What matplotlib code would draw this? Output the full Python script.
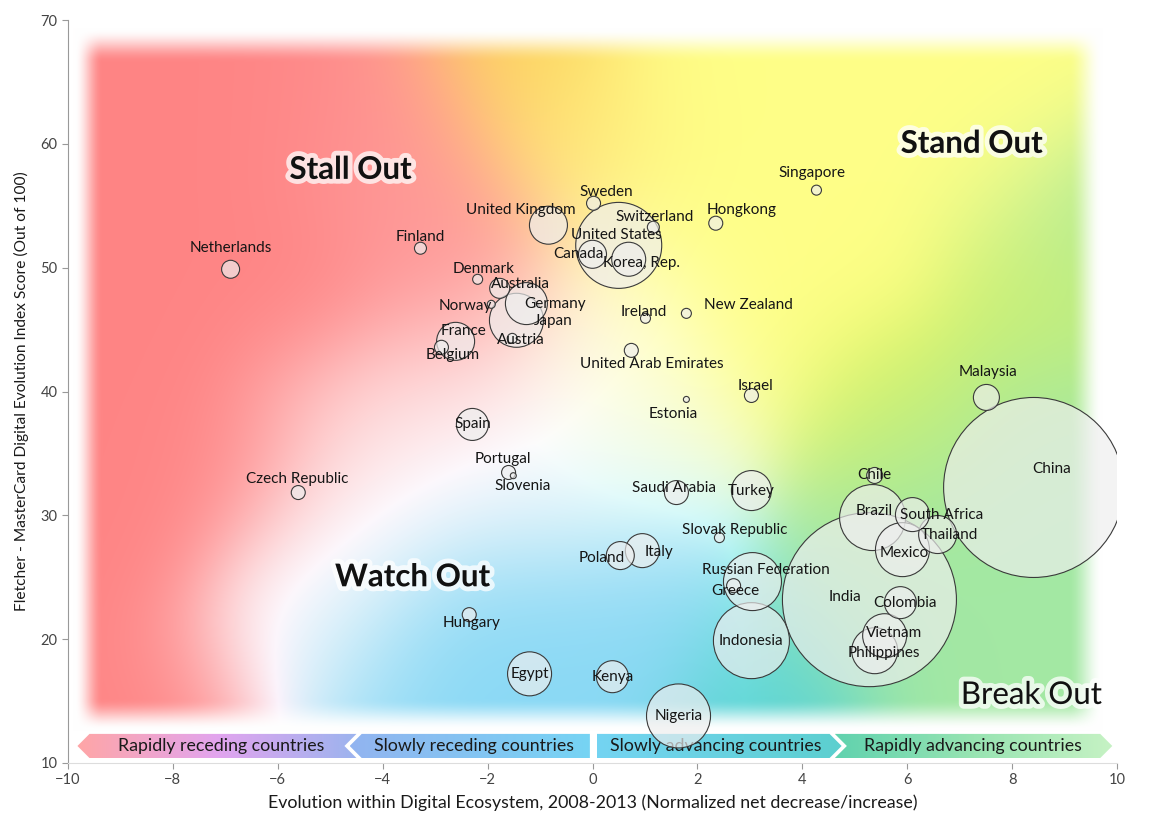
import numpy as np
import matplotlib
matplotlib.use("Agg")
import matplotlib.pyplot as plt
from matplotlib.patches import Polygon
from matplotlib.colors import LinearSegmentedColormap
import matplotlib.patheffects as pe

plt.rcParams['font.family'] = ['Lato', 'DejaVu Sans']

# ---- data ----
countries = ["Netherlands", "Finland", "Denmark", "Australia", "Norway", "Germany", "Japan",
             "Austria", "France", "Belgium", "United Kingdom", "Sweden", "United States",
             "Switzerland", "Canada", "Korea, Rep.", "Hongkong", "Ireland", "New Zealand",
             "United Arab Emirates", "Singapore", "Malaysia", "China", "Israel", "Estonia",
             "Spain", "Portugal", "Slovenia", "Czech Republic", "Hungary", "Egypt", "Kenya",
             "Nigeria", "Saudi Arabia", "Turkey", "Slovak Republic", "Poland", "Italy",
             "Russian Federation", "Greece", "Indonesia", "India", "Chile", "Brazil",
             "South Africa", "Thailand", "Mexico", "Colombia", "Vietnam", "Philippines"]
evolution = [-6.90, -3.28, -2.19, -1.77, -1.93, -1.26, -1.45, -1.53, -2.61, -2.88, -0.84, 0.02,
             0.50, 1.16, 0.00, 0.69, 2.35, 1.01, 1.79, 0.74, 4.27, 7.51, 8.41, 3.03, 1.79,
             -2.29, -1.60, -1.51, -5.61, -2.35, -1.20, 0.38, 1.64, 1.60, 3.03, 2.42, 0.53,
             0.95, 3.05, 2.69, 3.03, 5.28, 5.38, 5.34, 6.10, 6.58, 5.91, 5.87, 5.57, 5.38]
score = [49.87, 51.57, 49.06, 48.33, 47.04, 47.10, 45.75, 44.29, 44.05, 43.57, 53.43, 55.20,
         51.80, 53.27, 51.08, 50.68, 53.59, 45.91, 46.31, 43.32, 56.26, 39.52, 32.25, 39.68,
         39.36, 37.34, 33.46, 33.20, 31.84, 21.98, 17.20, 16.97, 13.80, 31.84, 32.00, 28.20,
         26.75, 27.15, 24.65, 24.32, 19.88, 23.19, 33.22, 29.82, 30.06, 28.45, 27.23, 22.95,
         20.28, 19.07]
bubble = [9, 6, 5, 10, 4, 21, 27, 5, 19, 7, 19, 7, 43, 6, 14, 17, 7, 5, 5, 7, 5, 13, 90, 7, 3,
          16, 7, 3, 7, 7, 22, 16, 32, 12, 20, 5, 14, 17, 29, 7, 38, 87, 8, 33, 17, 19, 27, 16,
          22, 23]

quadrants = ["Stall Out", "Stand Out", "Watch Out", "Break Out"]
bands = ["Rapidly receding countries", "Slowly receding countries",
         "Slowly advancing countries", "Rapidly advancing countries"]
x_ticks = list(range(-10, 11, 2))
y_ticks = list(range(10, 71, 10))

# label offsets (pixels, right / up) relative to each bubble
label_off = {
    "Netherlands": (0, 21), "Finland": (0, 11), "Denmark": (6, 10), "Australia": (21, 4),
    "Norway": (-26, -2), "Germany": (29, 0), "Japan": (37, -1), "Austria": (9, -2),
    "France": (8, 10), "Belgium": (11, -8), "United Kingdom": (-28, 15), "Sweden": (13, 11),
    "United States": (-2, 10), "Switzerland": (1, 10), "Canada": (-14, 0),
    "Korea, Rep.": (13, -4), "Hongkong": (26, 13), "Ireland": (-2, 6),
    "New Zealand": (62, 8), "United Arab Emirates": (20, -14), "Singapore": (-4, 17),
    "Malaysia": (2, 25), "China": (18, 18), "Israel": (4, 9), "Estonia": (-13, -15),
    "Portugal": (-6, 13), "Slovenia": (9, -10), "Czech Republic": (-1, 14),
    "Hungary": (2, -8), "Saudi Arabia": (-2, 5), "Slovak Republic": (15, 8),
    "Poland": (-19, -2), "Italy": (17, -1), "Russian Federation": (13, 12),
    "Greece": (2, -5), "India": (-24, 3), "Brazil": (2, 7), "South Africa": (29, 0),
    "Thailand": (12, 0), "Mexico": (2, -3), "Colombia": (5, 0), "Vietnam": (9, 3),
    "Philippines": (9, -2),
}

fig = plt.figure(figsize=(11.68, 8.32), dpi=100)
ax = fig.add_axes([68 / 1168, 1 - 763 / 832, 1049 / 1168, 743 / 832])
ax.set_xlim(-10, 10)
ax.set_ylim(10, 70)

# ---- soft coloured background ----
def smooth(d, a, b):
    t = np.clip((d - a) / (b - a), 0, 1)
    return t * t * (3 - 2 * t)

red, pink, lpink = (1.0, 0.52, 0.52), (1.0, 0.60, 0.60), (1.0, 0.80, 0.80)
gold, lgold = (0.99, 0.83, 0.36), (1.0, 0.92, 0.50)
yellow, pyellow = (1.0, 1.0, 0.53), (1.0, 1.0, 0.78)
white = (0.98, 0.98, 0.99)
lime, green, teal = (0.85, 0.95, 0.38), (0.64, 0.91, 0.64), (0.36, 0.83, 0.83)
blue, lblue = (0.54, 0.85, 0.96), (0.84, 0.94, 0.98)
anchors = [
    ((130, 120), red), ((130, 330), red), ((130, 540), red), ((170, 700), red),
    ((300, 110), red), ((300, 300), red), ((240, 470), red), ((390, 120), pink),
    ((430, 220), pink), ((470, 310), pink),
    ((450, 390), lpink), ((350, 430), lpink),
    ((520, 60), gold), ((580, 140), lgold),
    ((700, 80), yellow), ((860, 80), yellow), ((1000, 80), yellow), ((700, 220), yellow),
    ((850, 250), yellow), ((980, 170), yellow), ((760, 340), yellow),
    ((660, 410), pyellow), ((610, 320), pyellow),
    ((290, 640), white), ((330, 570), white), ((380, 510), white), ((440, 465), white),
    ((520, 420), white), ((580, 390), white),
    ((1040, 300), lime), ((890, 410), lime),
    ((920, 480), green), ((1010, 560), green), ((1060, 400), green), ((1070, 230), green),
    ((960, 680), green), ((1060, 690), green), ((870, 590), green),
    ((780, 690), teal),
    ((380, 680), blue), ((540, 650), blue), ((650, 600), blue), ((460, 600), blue),
    ((520, 510), lblue), ((640, 490), lblue),
]
gx = np.linspace(68, 1117, 700)
gy = np.linspace(20, 763, 500)
PX, PY = np.meshgrid(gx, gy)
sig = 68.0
d2 = np.stack([(PX - a[0]) ** 2 + (PY - a[1]) ** 2 for a, _ in anchors])
w = np.exp(-(d2 - d2.min(axis=0)) / (2 * sig ** 2))
w = w / w.sum(axis=0)
cols = np.array([c for _, c in anchors])
img = np.einsum('kij,kc->ijc', w, cols)
# keep blends between hues light instead of muddy
peak = np.einsum('kij,k->ij', w, cols.max(axis=1))
img = np.clip(img * (peak / img.max(axis=-1))[..., None], 0, 1)
fade = (smooth(PX - 68, 6, 34) * smooth(1117 - PX, 14, 48) *
        smooth(PY - 20, 8, 42) * smooth(763 - PY, 32, 64))[..., None]
img = img * fade + (1 - fade)
ax.imshow(img, extent=(-10, 10, 10, 70), origin='upper', aspect='auto', zorder=0,
          interpolation='bilinear')

# ---- bottom arrow band ----
yb, yt = 10.4, 12.35
ym = (yb + yt) / 2
shapes = [
    [(-9.82, ym), (-9.59, yt), (-4.50, yt), (-4.73, ym), (-4.50, yb), (-9.59, yb)],
    [(-4.63, ym), (-4.40, yt), (-0.05, yt), (-0.05, yb), (-4.40, yb)],
    [(0.08, yt), (4.52, yt), (4.75, ym), (4.52, yb), (0.08, yb)],
    [(4.62, yt), (9.68, yt), (9.91, ym), (9.68, yb), (4.62, yb), (4.85, ym)],
]
grads = [
    ["#ffa6a6", "#e2a4ee", "#9cb4ee"],
    ["#92b4f0", "#76d4f4"],
    ["#74d4f2", "#5ccfcf"],
    ["#60d2ae", "#98e4b2", "#c6f2c4"],
]
text_x = [-7.07, -2.25, 2.35, 7.25]
for pts, g, lab, tx in zip(shapes, grads, bands, text_x):
    poly = Polygon(pts, closed=True, facecolor='none', edgecolor='none', zorder=1)
    ax.add_patch(poly)
    xs = [p[0] for p in pts]
    cmap = LinearSegmentedColormap.from_list("g", g)
    im = ax.imshow(np.linspace(0, 1, 256)[None, :], cmap=cmap, aspect='auto',
                   extent=(min(xs), max(xs), yb, yt), zorder=1)
    im.set_clip_path(poly)
    ax.text(tx, ym, lab, ha='center', va='center', fontsize=12.8, color='#1a1a1a', zorder=2)

# ---- bubbles ----
order = np.argsort(bubble)[::-1]
for i in order:
    s = (2 * bubble[i] * 0.72) ** 2
    ax.scatter(evolution[i], score[i], s=s, facecolor='#eeeeee', alpha=0.68,
               edgecolor='none', zorder=3)
    ax.scatter(evolution[i], score[i], s=s, facecolor='none', edgecolor='#3a3a3a',
               linewidth=0.8, zorder=3)

for name, x, y in zip(countries, evolution, score):
    dx, dy = label_off.get(name, (0, 0))
    ax.annotate(name, (x, y), xytext=(dx * 0.72, dy * 0.72), textcoords='offset points',
                ha='center', va='center', fontsize=11, color='#151515', zorder=4)

# ---- quadrant titles ----
glow = [pe.withStroke(linewidth=7, foreground='white', alpha=0.75)]
q_pos = [(-4.61, 57.9, 'bold'), (7.23, 60.0, 'bold'), (-3.43, 25.0, 'bold'), (8.37, 15.5, 'normal')]
for q, (qx, qy, wt) in zip(quadrants, q_pos):
    ax.text(qx, qy, q, ha='center', va='center', fontsize=22.5, fontweight=wt,
            color='#111111', path_effects=glow, zorder=5)

# ---- axes styling ----
ax.set_xticks(x_ticks)
ax.set_yticks(y_ticks)
ax.tick_params(labelsize=10.5, colors='#444444', length=4, width=0.8)
ax.tick_params(axis='both', color='#999999')
for side in ['top', 'right']:
    ax.spines[side].set_visible(False)
ax.spines['left'].set_color('#999999')
ax.spines['bottom'].set_color('#dddddd')
ax.set_xlabel("Evolution within Digital Ecosystem, 2008-2013 (Normalized net decrease/increase)",
              fontsize=12.8, color='#1a1a1a', labelpad=5)
ax.set_ylabel("Fletcher - MasterCard Digital Evolution Index Score (Out of 100)",
              fontsize=11.2, color='#1a1a1a', labelpad=8)

fig.savefig("out.png", dpi=100)
